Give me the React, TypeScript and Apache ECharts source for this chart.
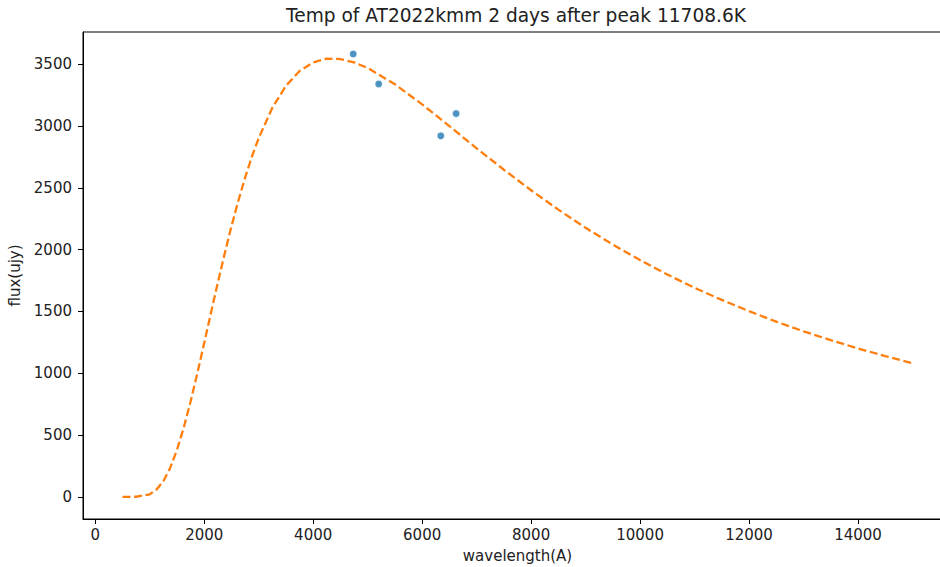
import React, { useEffect, useRef } from "react";
import * as echarts from "echarts";

const titleText = "Temp of AT2022kmm 2 days after peak 11708.6K";
const xLabel = "wavelength(A)";
const yLabel = "flux(ujy)";

// observed photometry
const obsWavelength = [4735, 5202, 6342, 6623];
const obsFlux = [3582, 3340, 2920, 3100];

// blackbody fit curve
const fitWavelength = [
  500, 750, 1000, 1125, 1250, 1375, 1500, 1625, 1750, 1875, 2000, 2125, 2250,
  2375, 2500, 2625, 2750, 2875, 3000, 3250, 3500, 3750, 4000, 4250, 4500, 4750,
  5000, 5500, 6000, 6500, 7000, 7500, 8000, 8500, 9000, 9500, 10000, 10500,
  11000, 11500, 12000, 12500, 13000, 13500, 14000, 14500, 15000,
];
const fitFlux = [
  0, 1, 21, 59, 127, 234, 380, 561, 772, 1003, 1245, 1491, 1734, 1967, 2188,
  2393, 2582, 2752, 2902, 3147, 3325, 3444, 3514, 3545, 3541, 3514, 3469, 3337,
  3174, 2999, 2819, 2646, 2480, 2323, 2176, 2041, 1915, 1798, 1691, 1593, 1502,
  1417, 1339, 1268, 1200, 1139, 1081,
];

const xTicks = [0, 2000, 4000, 6000, 8000, 10000, 12000, 14000];
const yTicks = [0, 500, 1000, 1500, 2000, 2500, 3000, 3500];

const FONT = "DejaVu Sans";
const TXT = "#222";

export default function App() {
  const ref = useRef<HTMLDivElement>(null);
  useEffect(() => {
    if (!ref.current) return;
    const chart = echarts.init(ref.current, null, { renderer: "svg" });
    const plain = (v: number) => String(v);
    chart.setOption({
      animation: false,
      backgroundColor: "#fff",
      title: {
        text: titleText,
        left: 516,
        top: 6,
        padding: 0,
        textAlign: "center",
        textStyle: { fontFamily: FONT, fontSize: 18.6, fontWeight: "normal", color: TXT },
      },
      grid: {
        left: 83,
        top: 32,
        bottom: 48,
        right: 0,
        containLabel: false,
        outerBoundsMode: "none",
        show: true,
        borderColor: "#000",
        borderWidth: 1,
        backgroundColor: "transparent",
      },
      xAxis: {
        type: "value",
        min: -225,
        max: 15725,
        name: xLabel,
        nameLocation: "middle",
        nameGap: 29,
        nameTextStyle: { fontFamily: FONT, fontSize: 15, color: TXT },
        splitLine: { show: false },
        axisLine: { onZero: false, lineStyle: { color: "#000", width: 1 } },
        axisTick: { show: true, length: 5, lineStyle: { color: "#000" }, customValues: xTicks },
        axisLabel: {
          customValues: xTicks,
          formatter: plain,
          margin: 8,
          fontFamily: FONT,
          fontSize: 15,
          color: TXT,
        },
      },
      yAxis: {
        type: "value",
        min: -179,
        max: 3760,
        name: yLabel,
        nameLocation: "middle",
        nameRotate: 90,
        nameGap: 59,
        nameTextStyle: { fontFamily: FONT, fontSize: 15, color: TXT },
        splitLine: { show: false },
        axisLine: { show: true, onZero: false, lineStyle: { color: "#000", width: 1 } },
        axisTick: { show: true, length: 5, lineStyle: { color: "#000" }, customValues: yTicks },
        axisLabel: {
          customValues: yTicks,
          formatter: plain,
          margin: 11,
          fontFamily: FONT,
          fontSize: 15,
          color: TXT,
        },
      },
      series: [
        {
          type: "scatter",
          data: obsWavelength.map((w, i) => [w, obsFlux[i]]),
          symbolSize: 7.5,
          itemStyle: { color: "#1f77b4", borderColor: "#fff", borderWidth: 0.8 },
          z: 3,
        },
        {
          type: "line",
          data: fitWavelength.map((w, i) => [w, fitFlux[i]]),
          showSymbol: false,
          smooth: false,
          lineStyle: { color: "#ff7f0e", width: 2.3, type: [8, 3.6] },
          z: 2,
        },
      ],
    });
    return () => chart.dispose();
  }, []);
  return (
    <div
      style={{
        position: "absolute",
        left: 0,
        top: 0,
        width: 940,
        height: 567,
        overflow: "hidden",
      }}
    >
      <div ref={ref} style={{ width: 952, height: 567 }} />
    </div>
  );
}
